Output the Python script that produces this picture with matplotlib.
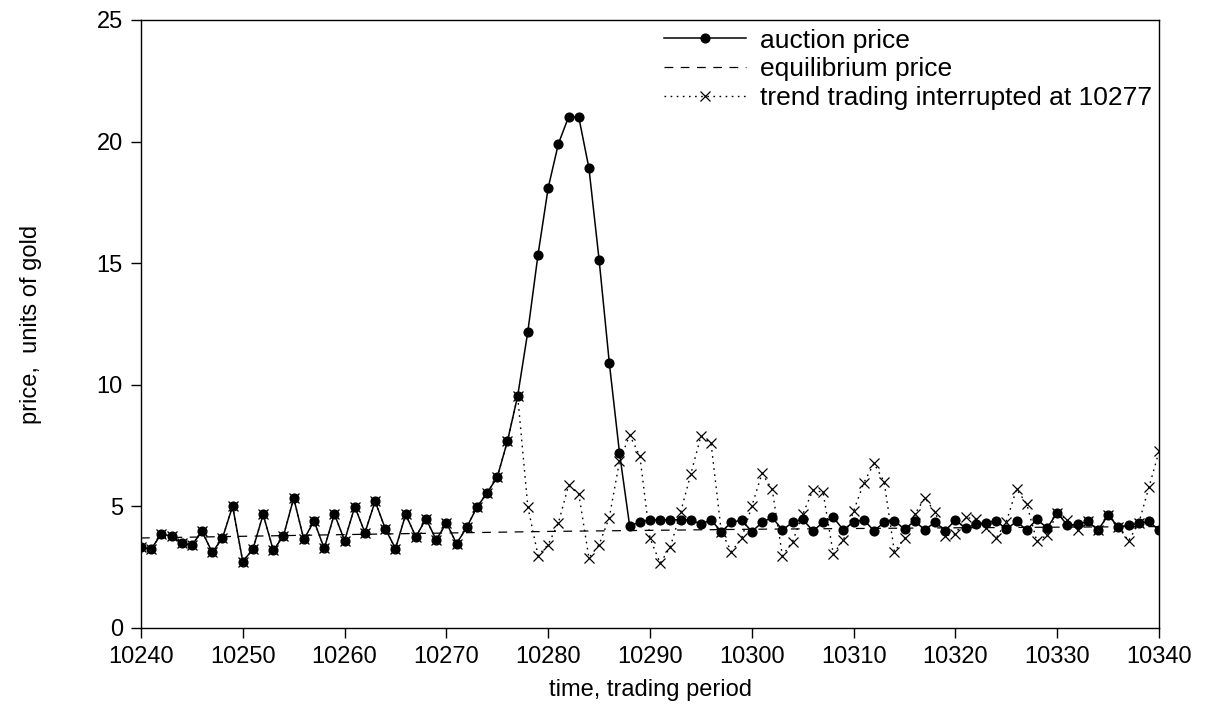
import matplotlib
matplotlib.use("Agg")
import matplotlib.pyplot as plt

# trading periods
periods = list(range(10240, 10341))

# auction price per period
auction_price = [
    3.32, 3.25, 3.86, 3.78, 3.48, 3.41, 3.97, 3.11, 3.69, 5.01,
    2.73, 3.25, 4.67, 3.19, 3.79, 5.34, 3.64, 4.40, 3.27, 4.69,
    3.59, 4.99, 3.92, 5.21, 4.08, 3.26, 4.67, 3.75, 4.49, 3.62,
    4.32, 3.47, 4.14, 4.97, 5.55, 6.21, 7.69, 9.54, 12.19, 15.35,
    18.10, 19.91, 21.01, 21.01, 18.91, 15.14, 10.91, 7.21, 4.20, 4.35,
    4.44, 4.45, 4.45, 4.45, 4.45, 4.27, 4.44, 3.96, 4.34, 4.44,
    3.96, 4.34, 4.55, 4.03, 4.34, 4.47, 3.99, 4.34, 4.55, 4.03,
    4.37, 4.44, 4.00, 4.34, 4.41, 4.06, 4.40, 4.03, 4.36, 4.00,
    4.44, 4.10, 4.27, 4.33, 4.41, 4.06, 4.38, 4.03, 4.47, 4.11,
    4.74, 4.22, 4.27, 4.38, 4.03, 4.63, 4.16, 4.22, 4.30, 4.38,
    4.03,
]

# price path when trend trading is switched off after period 10277
interrupt_period = 10277
after_interrupt = [
    4.98, 2.98, 3.43, 4.32, 5.86, 5.52, 2.88, 3.43, 4.54, 6.85,
    7.93, 7.07, 3.69, 2.66, 3.34, 4.75, 6.32, 7.89, 7.59, 3.96,
    3.14, 3.69, 5.01, 6.36, 5.70, 2.97, 3.55, 4.67, 5.67, 5.58,
    3.04, 3.62, 4.81, 5.97, 6.77, 6.01, 3.14, 3.69, 4.67, 5.36,
    4.75, 3.80, 3.86, 4.55, 4.47, 4.10, 3.69, 4.37, 5.71, 5.10,
    3.56, 3.82, 4.74, 4.44, 4.03, 4.38, 4.03, 4.63, 4.16, 3.58,
    4.30, 5.78, 7.26,
]
n_shared = interrupt_period - periods[0] + 1
interrupted_price = auction_price[:n_shared] + after_interrupt

# equilibrium price
eq_periods = [10240, 10260, 10280, 10300, 10320, 10340]
eq_price = [3.70, 3.84, 3.97, 4.06, 4.12, 4.17]

plt.rcParams['font.family'] = ['Liberation Sans', 'DejaVu Sans']

fig = plt.figure(figsize=(12.10, 7.06), dpi=100)
ax = fig.add_axes([0.1165, 0.1105, 0.8414, 0.8612])

ax.plot(eq_periods, eq_price, color='black', lw=0.9,
        dashes=(7, 6), label='equilibrium price', zorder=1)
ax.plot(periods, interrupted_price, color='black', lw=1.0,
        dashes=(1.2, 3.2), marker='x', markersize=7, markeredgewidth=0.9,
        label='trend trading interrupted at 10277', zorder=2)
ax.plot(periods, auction_price, color='black', lw=1.1, ls='-',
        marker='o', markersize=6.3, label='auction price', zorder=3)

ax.set_xlim(10240, 10340)
ax.set_ylim(0, 25)
ax.set_xticks(range(10240, 10341, 10))
ax.set_yticks(range(0, 26, 5))
ax.tick_params(direction='out', length=7, width=1, labelsize=17,
               top=False, right=False, pad=6)
for s in ax.spines.values():
    s.set_linewidth(1)

ax.set_xlabel('time, trading period', fontsize=17, labelpad=8)
ax.set_ylabel('price,  units of gold', fontsize=17, labelpad=39)

handles, labels = ax.get_legend_handles_labels()
order = [2, 0, 1]
ax.legend([handles[i] for i in order], [labels[i] for i in order],
          loc='upper right', bbox_to_anchor=(0.996, 0.99),
          frameon=False, fontsize=19, handlelength=3.1,
          handletextpad=0.55, labelspacing=0.18, borderpad=0.1,
          borderaxespad=0.0)

fig.savefig('out.png', dpi=100)
